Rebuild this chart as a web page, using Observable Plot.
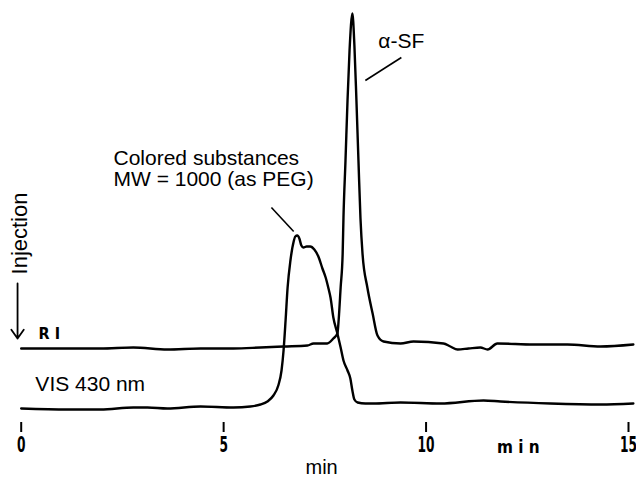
<!DOCTYPE html>
<html><head><meta charset="utf-8">
<script src="https://cdn.jsdelivr.net/npm/d3@7"></script>
<script src="https://cdn.jsdelivr.net/npm/@observablehq/plot@0.6"></script>
<style>body{margin:0;background:#fff;}</style>
</head><body><div id="chart"></div>
<script>
// Retention time (min) and detector response (a.u.)
const riTime = [0.00,1.14,1.96,2.77,3.61,4.43,5.24,5.91,6.48,7.07,7.22,7.56,7.71,7.81,7.84,7.89,7.94,7.96,8.01,8.06,8.11,8.18,8.23,8.28,8.33,8.38,8.43,8.55,8.68,8.80,8.95,9.37,9.69,10.43,10.60,10.78,11.05,11.34,11.52,11.76,12.65,13.49,14.31,15.12];
const riSignal = [74,74,74,75,73,74,74,75,76,77,79,79,84,89,102,135,169,205,262,322,372,409,377,322,262,204,169,135,109,87,81,79,81,79,76,73,74,75,73,79,78,78,76,78];
const visTime = [0.00,1.14,1.96,2.77,3.12,3.61,4.43,5.24,5.66,5.91,6.08,6.23,6.35,6.43,6.48,6.53,6.58,6.65,6.73,6.77,6.82,6.87,6.92,6.97,7.05,7.14,7.24,7.34,7.44,7.52,7.59,7.64,7.71,7.81,7.89,7.96,8.06,8.13,8.18,8.23,8.31,8.50,8.70,9.37,10.36,11.42,11.84,13.07,14.31,15.12];
const visSignal = [14,13,13,15,15,14,16,15,16,18,21,27,37,52,72,102,135,162,181,186,187,184,177,175,176,176,173,166,154,145,134,125,105,89,75,62,52,44,32,23,20,19,19,20,19,22,21,19,18,19];
const xTicks = [0, 5, 10, 15];

// Annotation texts and anchors (data space)
const labelText = ["α-SF", "Colored substances\nMW = 1000 (as PEG)", "VIS 430 nm"];
const labelX = [8.82, 2.28, 0.35];
const labelY = [375, 237, 32];
const leaderX1 = [9.39, 6.18], leaderY1 = [365, 215];
const leaderX2 = [8.50, 6.73], leaderY2 = [342, 191];

const ri = riTime.map((t, i) => ({t, v: riSignal[i]}));
const vis = visTime.map((t, i) => ({t, v: visSignal[i]}));
const labels = labelText.map((s, i) => ({s, x: labelX[i], y: labelY[i]}));
const leaders = leaderX1.map((x1, i) => ({x1, y1: leaderY1[i], x2: leaderX2[i], y2: leaderY2[i]}));

const sans = "'Liberation Sans', Arial, Helvetica, sans-serif";
const narrow = "'DejaVu Sans Condensed', 'DejaVu Sans', sans-serif";

const chart = Plot.plot({
  width: 636, height: 479,
  marginTop: 13, marginBottom: 57, marginLeft: 20.7, marginRight: 8,
  x: {domain: [0, 15], label: null},
  y: {domain: [0, 409], axis: null},
  style: {background: "#fff", fontFamily: sans, color: "#000"},
  marks: [
    Plot.axisX(xTicks, {tickSize: 10, tickPadding: 4, fontSize: 22, fontFamily: narrow, fontWeight: "bold", strokeWidth: 2, label: null, tickFormat: d => String(d)}),
    Plot.line(ri, {x: "t", y: "v", stroke: "#000", strokeWidth: 2.4, curve: "monotone-x", strokeLinejoin: "round"}),
    Plot.line(vis, {x: "t", y: "v", stroke: "#000", strokeWidth: 2.4, curve: "monotone-x", strokeLinejoin: "round"}),
    Plot.link(leaders, {x1: "x1", y1: "y1", x2: "x2", y2: "y2", stroke: "#000", strokeWidth: 1.6}),
    Plot.text(labels, {x: "x", y: "y", text: "s", textAnchor: "start", lineAnchor: "bottom", fontSize: 21, lineHeight: 1.0, fill: "#000"}),
    Plot.text(["Injection"], {x: -0.04, y: 189, text: d => d, rotate: -90, fontSize: 22, textAnchor: "middle", lineAnchor: "middle", fill: "#000"}),
    Plot.arrow([0], {x1: -0.09, x2: -0.09, y1: 139, y2: 84, stroke: "#000", strokeWidth: 1.8, headLength: 9, headAngle: 70}),
    Plot.text(["R I"], {x: 0.43, y: 84, text: d => d, textAnchor: "start", lineAnchor: "bottom", fontSize: 16, fontFamily: narrow, fontWeight: "bold", fill: "#000", ariaLabel: "ri-label"}),
    Plot.text(["m i n"], {x: 12.28, y: -30, text: d => d, textAnchor: "middle", lineAnchor: "bottom", fontSize: 17, fontFamily: narrow, fontWeight: "bold", fill: "#000", ariaLabel: "min-unit"}),
    Plot.text(["min"], {x: 7.42, y: -51, text: d => d, textAnchor: "middle", lineAnchor: "bottom", fontSize: 20, fill: "#000"})
  ]
});

// condense the typewriter-like labels
d3.select(chart).selectAll('g[aria-label="x-axis tick label"] text').each(function() {
  const s = this.textContent;
  this.setAttribute("textLength", s.length * 8.5);
  this.setAttribute("lengthAdjust", "spacingAndGlyphs");
});
d3.select(chart).selectAll('g[aria-label="ri-label"] text').attr("textLength", 19).attr("lengthAdjust", "spacingAndGlyphs");
d3.select(chart).selectAll('g[aria-label="min-unit"] text').attr("textLength", 30).attr("lengthAdjust", "spacingAndGlyphs");

document.getElementById("chart").appendChild(chart);
</script>
</body></html>
